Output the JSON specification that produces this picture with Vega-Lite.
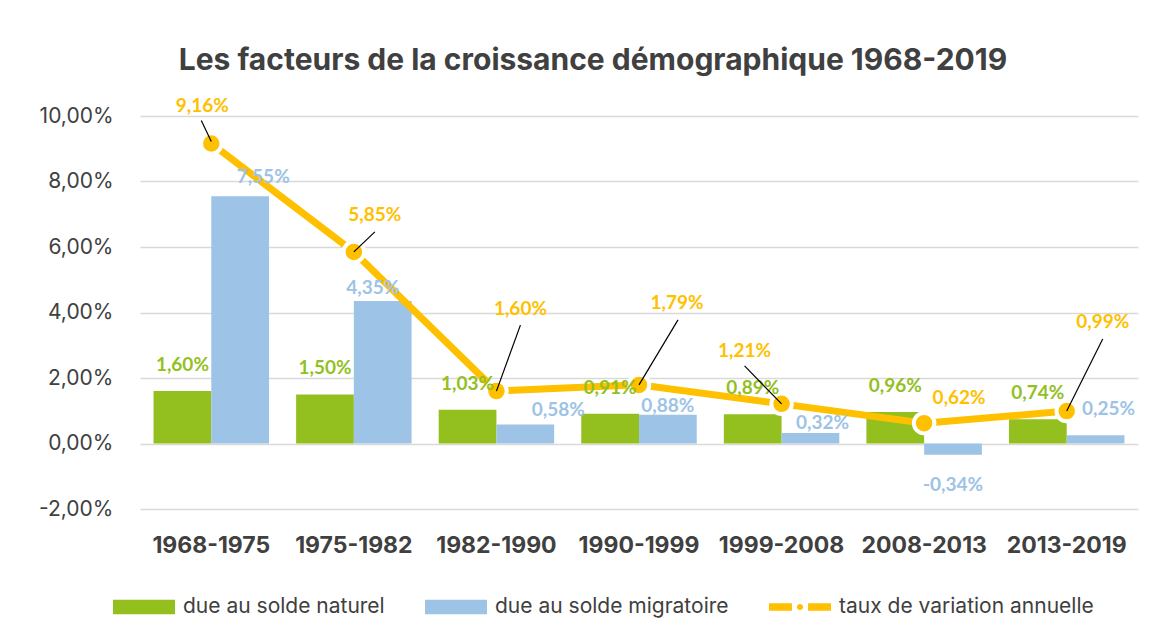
{
  "$schema": "https://vega.github.io/schema/vega-lite/v6.json",
  "width": 998,
  "height": 393,
  "autosize": {"type": "none"},
  "padding": {"left": 140, "top": 116, "right": 26, "bottom": 132},
  "background": "white",
  "title": {"text": "Les facteurs de la croissance démographique 1968-2019", "font": "Inter", "fontSize": 30, "fontWeight": "bold", "color": "#404040", "anchor": "middle", "dx": -46, "offset": 21},
  "config": {"view": {"stroke": null}},
  "data": {"values": [
    {"period": "1968-1975", "series": "due au solde naturel", "value": 1.60},
    {"period": "1975-1982", "series": "due au solde naturel", "value": 1.50},
    {"period": "1982-1990", "series": "due au solde naturel", "value": 1.03},
    {"period": "1990-1999", "series": "due au solde naturel", "value": 0.91},
    {"period": "1999-2008", "series": "due au solde naturel", "value": 0.89},
    {"period": "2008-2013", "series": "due au solde naturel", "value": 0.96},
    {"period": "2013-2019", "series": "due au solde naturel", "value": 0.74},
    {"period": "1968-1975", "series": "due au solde migratoire", "value": 7.55},
    {"period": "1975-1982", "series": "due au solde migratoire", "value": 4.35},
    {"period": "1982-1990", "series": "due au solde migratoire", "value": 0.58},
    {"period": "1990-1999", "series": "due au solde migratoire", "value": 0.88},
    {"period": "1999-2008", "series": "due au solde migratoire", "value": 0.32},
    {"period": "2008-2013", "series": "due au solde migratoire", "value": -0.34},
    {"period": "2013-2019", "series": "due au solde migratoire", "value": 0.25},
    {"period": "1968-1975", "series": "taux de variation annuelle", "value": 9.16},
    {"period": "1975-1982", "series": "taux de variation annuelle", "value": 5.85},
    {"period": "1982-1990", "series": "taux de variation annuelle", "value": 1.60},
    {"period": "1990-1999", "series": "taux de variation annuelle", "value": 1.79},
    {"period": "1999-2008", "series": "taux de variation annuelle", "value": 1.21},
    {"period": "2008-2013", "series": "taux de variation annuelle", "value": 0.62},
    {"period": "2013-2019", "series": "taux de variation annuelle", "value": 0.99}
  ]},
  "transform": [{"calculate": "replace(replace(format(datum.value,'.2f'),'.',','),'\u2212','-') + '%'", "as": "lbl"}],
  "encoding": {
    "x": {"field": "period", "type": "nominal", "sort": null,
      "scale": {"paddingInner": 0.19, "paddingOuter": 0.095},
      "axis": {"title": null, "labelAngle": 0, "labelFont": "Inter", "labelFontWeight": "bold", "labelFontSize": 23, "labelColor": "#404040", "labelPadding": 25, "domain": false, "ticks": false, "grid": false}},
    "y": {"field": "value", "type": "quantitative",
      "scale": {"domain": [-2, 10], "nice": false, "zero": false},
      "axis": {"title": null, "values": [-2, 0, 2, 4, 6, 8, 10], "labelExpr": "replace(replace(format(datum.value,'.2f'),'.',','),'\u2212','-') + '%'", "labelFont": "Inter", "labelFontSize": 21, "labelColor": "#404040", "labelPadding": 27, "domain": false, "ticks": false, "grid": true, "gridColor": "#d9d9d9", "gridWidth": 1.3}}
  },
  "layer": [
    {
      "transform": [{"filter": "datum.series !== 'taux de variation annuelle'"}],
      "mark": {"type": "bar"},
      "encoding": {
        "xOffset": {"field": "series", "type": "nominal", "scale": {"domain": ["due au solde naturel", "due au solde migratoire"], "paddingInner": 0, "paddingOuter": 0}},
        "color": {"field": "series", "type": "nominal",
          "scale": {"domain": ["due au solde naturel", "due au solde migratoire", "taux de variation annuelle"], "range": ["#93C01F", "#9DC3E6", "#FFC000"]},
          "legend": {"orient": "none", "legendX": -27, "legendY": 460, "direction": "horizontal", "columns": 3, "title": null,
            "symbolSize": 3844, "symbolType": "M-1,-0.23H1V0.23H-1Z", "symbolStrokeWidth": 0,
            "labelFont": "Inter", "labelFontSize": 21, "labelColor": "#404040", "labelOffset": 8, "labelLimit": 0, "columnPadding": 40,
            "encode": {"symbols": {"update": {
              "shape": {"signal": "datum.value === 'taux de variation annuelle' ? 'M-1,-0.12H-0.26V0.12H-1Z M0.26,-0.12H1V0.12H0.26Z M-0.1,0A0.1,0.1 0 1 0 0.1,0A0.1,0.1 0 1 0 -0.1,0Z' : 'M-1,-0.23H1V0.23H-1Z'"},
              "fill": {"signal": "scale('color', datum.value)"},
              "opacity": {"value": 1}}}}}}
      }
    },
    {
      "transform": [{"filter": "datum.series === 'taux de variation annuelle'"}],
      "mark": {"type": "line", "color": "#FFC000", "strokeWidth": 7}
    },
    {
      "transform": [{"filter": "datum.series === 'taux de variation annuelle'"}],
      "mark": {"type": "point", "filled": true, "fill": "#FFC000", "stroke": "white", "strokeWidth": 4, "size": 420, "opacity": 1}
    },
    {
      "transform": [{"filter": "datum.series === 'due au solde naturel'"}],
      "mark": {"type": "text", "font": "Lato", "fontWeight": "bold", "fontSize": 19, "color": "#93C01F", "baseline": "middle", "dy": -26},
      "encoding": {"xOffset": {"field": "series", "type": "nominal"}, "text": {"field": "lbl"}}
    },
    {
      "transform": [{"filter": "datum.series === 'due au solde migratoire'"}],
      "encoding": {"xOffset": {"field": "series", "type": "nominal"}, "text": {"field": "lbl"}},
      "layer": [
        {"transform": [{"filter": "datum.period === '1968-1975'"}], "mark": {"type": "text", "font": "Lato", "fontWeight": "bold", "fontSize": 19, "color": "#9DC3E6", "baseline": "middle", "dx": 23, "dy": -19}},
        {"transform": [{"filter": "datum.period === '1975-1982'"}], "mark": {"type": "text", "font": "Lato", "fontWeight": "bold", "fontSize": 19, "color": "#9DC3E6", "baseline": "middle", "dx": -10, "dy": -13}},
        {"transform": [{"filter": "datum.period === '1982-1990'"}], "mark": {"type": "text", "font": "Lato", "fontWeight": "bold", "fontSize": 19, "color": "#9DC3E6", "baseline": "middle", "dx": 33, "dy": -15}},
        {"transform": [{"filter": "datum.period === '1990-1999'"}], "mark": {"type": "text", "font": "Lato", "fontWeight": "bold", "fontSize": 19, "color": "#9DC3E6", "baseline": "middle", "dx": 0, "dy": -9}},
        {"transform": [{"filter": "datum.period === '1999-2008'"}], "mark": {"type": "text", "font": "Lato", "fontWeight": "bold", "fontSize": 19, "color": "#9DC3E6", "baseline": "middle", "dx": 12, "dy": -10}},
        {"transform": [{"filter": "datum.period === '2008-2013'"}], "mark": {"type": "text", "font": "Lato", "fontWeight": "bold", "fontSize": 19, "color": "#9DC3E6", "baseline": "middle", "dx": 0, "dy": 30}},
        {"transform": [{"filter": "datum.period === '2013-2019'"}], "mark": {"type": "text", "font": "Lato", "fontWeight": "bold", "fontSize": 19, "color": "#9DC3E6", "baseline": "middle", "dx": 13, "dy": -26}}
      ]
    },
    {
      "transform": [{"filter": "datum.series === 'taux de variation annuelle'"}],
      "layer": [
        {"transform": [{"filter": "datum.period === '1968-1975'"}],
          "layer": [
            {"mark": {"type": "rule", "color": "black", "strokeWidth": 1.2, "yOffset": -2, "x2Offset": -10, "y2Offset": -23}, "encoding": {"x2": {"field": "period"}, "y2": {"field": "value"}}},
            {"mark": {"type": "text", "font": "Lato", "fontWeight": "bold", "fontSize": 19, "color": "#FFC000", "baseline": "middle", "dx": -9, "dy": -38}, "encoding": {"text": {"field": "lbl"}}}
          ]},
        {"transform": [{"filter": "datum.period === '1975-1982'"}],
          "layer": [
            {"mark": {"type": "rule", "color": "black", "strokeWidth": 1.2, "x2Offset": 21, "y2Offset": -20}, "encoding": {"x2": {"field": "period"}, "y2": {"field": "value"}}},
            {"mark": {"type": "text", "font": "Lato", "fontWeight": "bold", "fontSize": 19, "color": "#FFC000", "baseline": "middle", "dx": 21, "dy": -37}, "encoding": {"text": {"field": "lbl"}}}
          ]},
        {"transform": [{"filter": "datum.period === '1982-1990'"}],
          "layer": [
            {"mark": {"type": "rule", "color": "black", "strokeWidth": 1.2, "x2Offset": 24, "y2Offset": -66}, "encoding": {"x2": {"field": "period"}, "y2": {"field": "value"}}},
            {"mark": {"type": "text", "font": "Lato", "fontWeight": "bold", "fontSize": 19, "color": "#FFC000", "baseline": "middle", "dx": 24, "dy": -82}, "encoding": {"text": {"field": "lbl"}}}
          ]},
        {"transform": [{"filter": "datum.period === '1990-1999'"}],
          "layer": [
            {"mark": {"type": "rule", "color": "black", "strokeWidth": 1.2, "x2Offset": 39, "y2Offset": -65}, "encoding": {"x2": {"field": "period"}, "y2": {"field": "value"}}},
            {"mark": {"type": "text", "font": "Lato", "fontWeight": "bold", "fontSize": 19, "color": "#FFC000", "baseline": "middle", "dx": 38, "dy": -82}, "encoding": {"text": {"field": "lbl"}}}
          ]},
        {"transform": [{"filter": "datum.period === '1999-2008'"}],
          "layer": [
            {"mark": {"type": "rule", "color": "black", "strokeWidth": 1.2, "x2Offset": -37, "y2Offset": -38}, "encoding": {"x2": {"field": "period"}, "y2": {"field": "value"}}},
            {"mark": {"type": "text", "font": "Lato", "fontWeight": "bold", "fontSize": 19, "color": "#FFC000", "baseline": "middle", "dx": -37, "dy": -53}, "encoding": {"text": {"field": "lbl"}}}
          ]},
        {"transform": [{"filter": "datum.period === '2008-2013'"}],
          "mark": {"type": "text", "font": "Lato", "fontWeight": "bold", "fontSize": 19, "color": "#FFC000", "baseline": "middle", "dx": 35, "dy": -25}, "encoding": {"text": {"field": "lbl"}}},
        {"transform": [{"filter": "datum.period === '2013-2019'"}],
          "layer": [
            {"mark": {"type": "rule", "color": "black", "strokeWidth": 1.2, "x2Offset": 36, "y2Offset": -72}, "encoding": {"x2": {"field": "period"}, "y2": {"field": "value"}}},
            {"mark": {"type": "text", "font": "Lato", "fontWeight": "bold", "fontSize": 19, "color": "#FFC000", "baseline": "middle", "dx": 36, "dy": -89}, "encoding": {"text": {"field": "lbl"}}}
          ]}
      ]
    }
  ]
}
